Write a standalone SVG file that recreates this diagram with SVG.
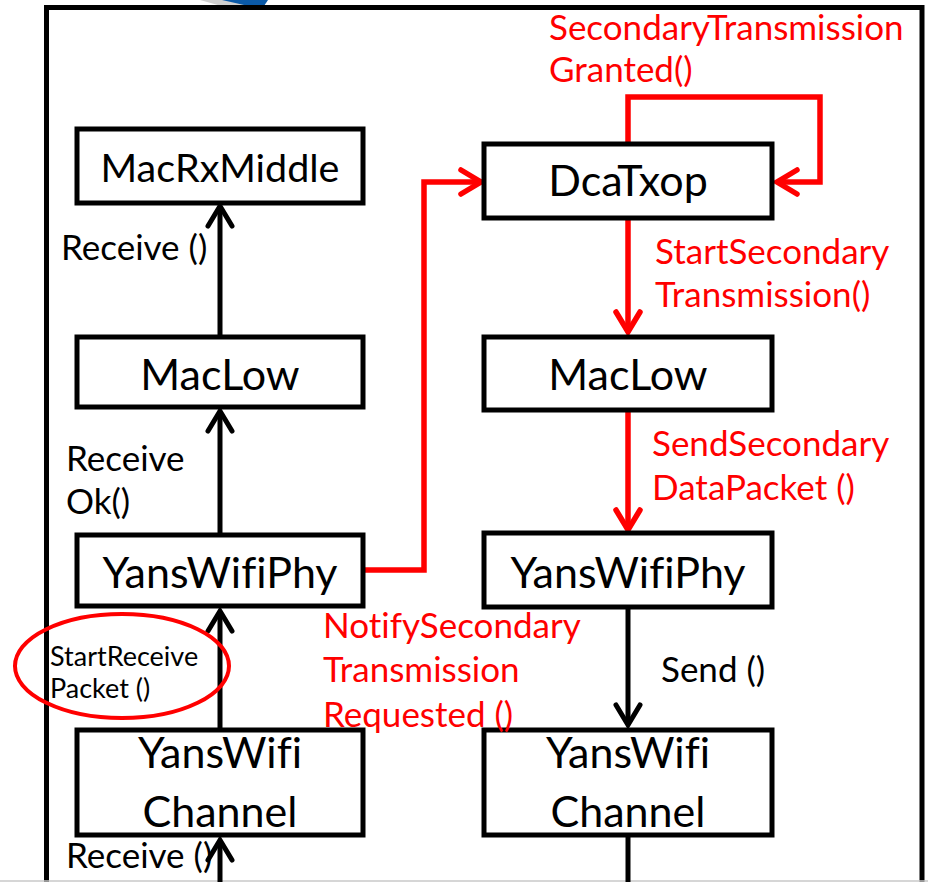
<svg xmlns="http://www.w3.org/2000/svg" width="928" height="882" viewBox="0 0 928 882">
<style>
text{font-variant-ligatures:none}
.box{fill:#fff;stroke:#000;stroke-width:5}
.bt{font-family:Lato,"Liberation Sans",sans-serif;font-size:43px;fill:#000;text-anchor:middle}
.lb{font-family:Lato,"Liberation Sans",sans-serif;font-size:35px;fill:#000}
.red{fill:#ff0000}
.sm{font-family:Lato,"Liberation Sans",sans-serif;font-size:27px;fill:#000}
.ck{fill:none;stroke:#000;stroke-width:5}
.cr{fill:none;stroke:#ff0000;stroke-width:5.5}
</style>
<defs>
<marker id="ab" markerUnits="userSpaceOnUse" markerWidth="40" markerHeight="40" refX="0" refY="0" viewBox="-30 -20 40 40" orient="auto" overflow="visible">
<path d="M-20,-12 L0,0 L-20,12" fill="none" stroke="#000" stroke-width="5" stroke-linecap="round" stroke-linejoin="miter"/>
</marker>
<marker id="ar" markerUnits="userSpaceOnUse" markerWidth="40" markerHeight="40" refX="0" refY="0" viewBox="-30 -20 40 40" orient="auto" overflow="visible">
<path d="M-20,-12 L0,0 L-20,12" fill="none" stroke="#ff0000" stroke-width="5.5" stroke-linecap="round" stroke-linejoin="miter"/>
</marker>
</defs>
<rect width="928" height="882" fill="#fff"/>
<polygon points="200,0 252,0 258,8 232,9" fill="#d0d0d0"/>
<polygon points="222,0 268,0 264,6 244,5" fill="#0b5aa8"/>
<rect x="46.5" y="7.5" width="875.5" height="900" fill="none" stroke="#000" stroke-width="5"/>
<line x1="0" y1="881" x2="928" y2="881" stroke="#c8c8c8" stroke-width="1.5"/>

<g id="connectors">
<line class="ck" x1="220" y1="335" x2="220" y2="206" marker-end="url(#ab)"/>
<line class="ck" x1="220" y1="533" x2="220" y2="411" marker-end="url(#ab)"/>
<line class="ck" x1="220" y1="728" x2="220" y2="611" marker-end="url(#ab)"/>
<line class="ck" x1="220" y1="882" x2="220" y2="840" marker-end="url(#ab)"/>
<line class="cr" x1="628" y1="218" x2="628" y2="332" marker-end="url(#ar)"/>
<line class="cr" x1="628" y1="411" x2="628" y2="530" marker-end="url(#ar)"/>
<line class="ck" x1="628" y1="607" x2="628" y2="725" marker-end="url(#ab)"/>
<line class="ck" x1="628" y1="837" x2="628" y2="882"/>
<polyline class="cr" points="363,570 424,570 424,182 481,182" marker-end="url(#ar)"/>
<polyline class="cr" points="628,144 628,97 820,97 820,182 777,182" marker-end="url(#ar)"/>
</g>

<g id="n-macrxmiddle"><rect class="box" x="77" y="129" width="286" height="74"/><text class="bt" x="220" y="182" style="font-size:39.5px">MacRxMiddle</text></g>
<g id="n-maclow-l"><rect class="box" x="77" y="337" width="286" height="70"/><text class="bt" x="220" y="390">MacLow</text></g>
<g id="n-yanswifiphy-l"><rect class="box" x="77" y="535" width="286" height="71"/><text class="bt" x="220" y="588">YansWifiPhy</text></g>
<g id="n-channel-l"><rect class="box" x="77" y="730" width="286" height="105"/><text class="bt" x="220" y="768">YansWifi</text><text class="bt" x="220" y="827">Channel</text></g>

<g id="n-dcatxop"><rect class="box" x="484" y="144" width="288" height="74"/><text class="bt" x="628" y="196">DcaTxop</text></g>
<g id="n-maclow-r"><rect class="box" x="484" y="337" width="288" height="73"/><text class="bt" x="628" y="390">MacLow</text></g>
<g id="n-yanswifiphy-r"><rect class="box" x="484" y="533" width="288" height="74"/><text class="bt" x="628" y="588">YansWifiPhy</text></g>
<g id="n-channel-r"><rect class="box" x="484" y="730" width="288" height="105"/><text class="bt" x="628" y="768">YansWifi</text><text class="bt" x="628" y="827">Channel</text></g>

<g id="labels">
<text class="lb red" x="549" y="40">SecondaryTransmission</text>
<text class="lb red" x="549" y="82">Granted()</text>
<text class="lb" x="61" y="260">Receive ()</text>
<text class="lb red" x="655" y="264">StartSecondary</text>
<text class="lb red" x="655" y="307">Transmission()</text>
<text class="lb" x="66" y="471">Receive</text>
<text class="lb" x="66" y="514">Ok()</text>
<text class="lb red" x="652" y="456">SendSecondary</text>
<text class="lb red" x="652" y="500">DataPacket ()</text>
<text class="lb red" x="323" y="638">NotifySecondary</text>
<text class="lb red" x="323" y="682">Transmission</text>
<text class="lb red" x="323" y="727">Requested ()</text>
<text class="lb" x="661" y="682">Send ()</text>
<text class="sm" x="50" y="666">StartReceive</text>
<text class="sm" x="50" y="698">Packet ()</text>
<text class="lb" x="66" y="868">Receive ()</text>
</g>
<ellipse cx="122" cy="666" rx="107" ry="52" fill="none" stroke="#ff0000" stroke-width="4"/>
</svg>
